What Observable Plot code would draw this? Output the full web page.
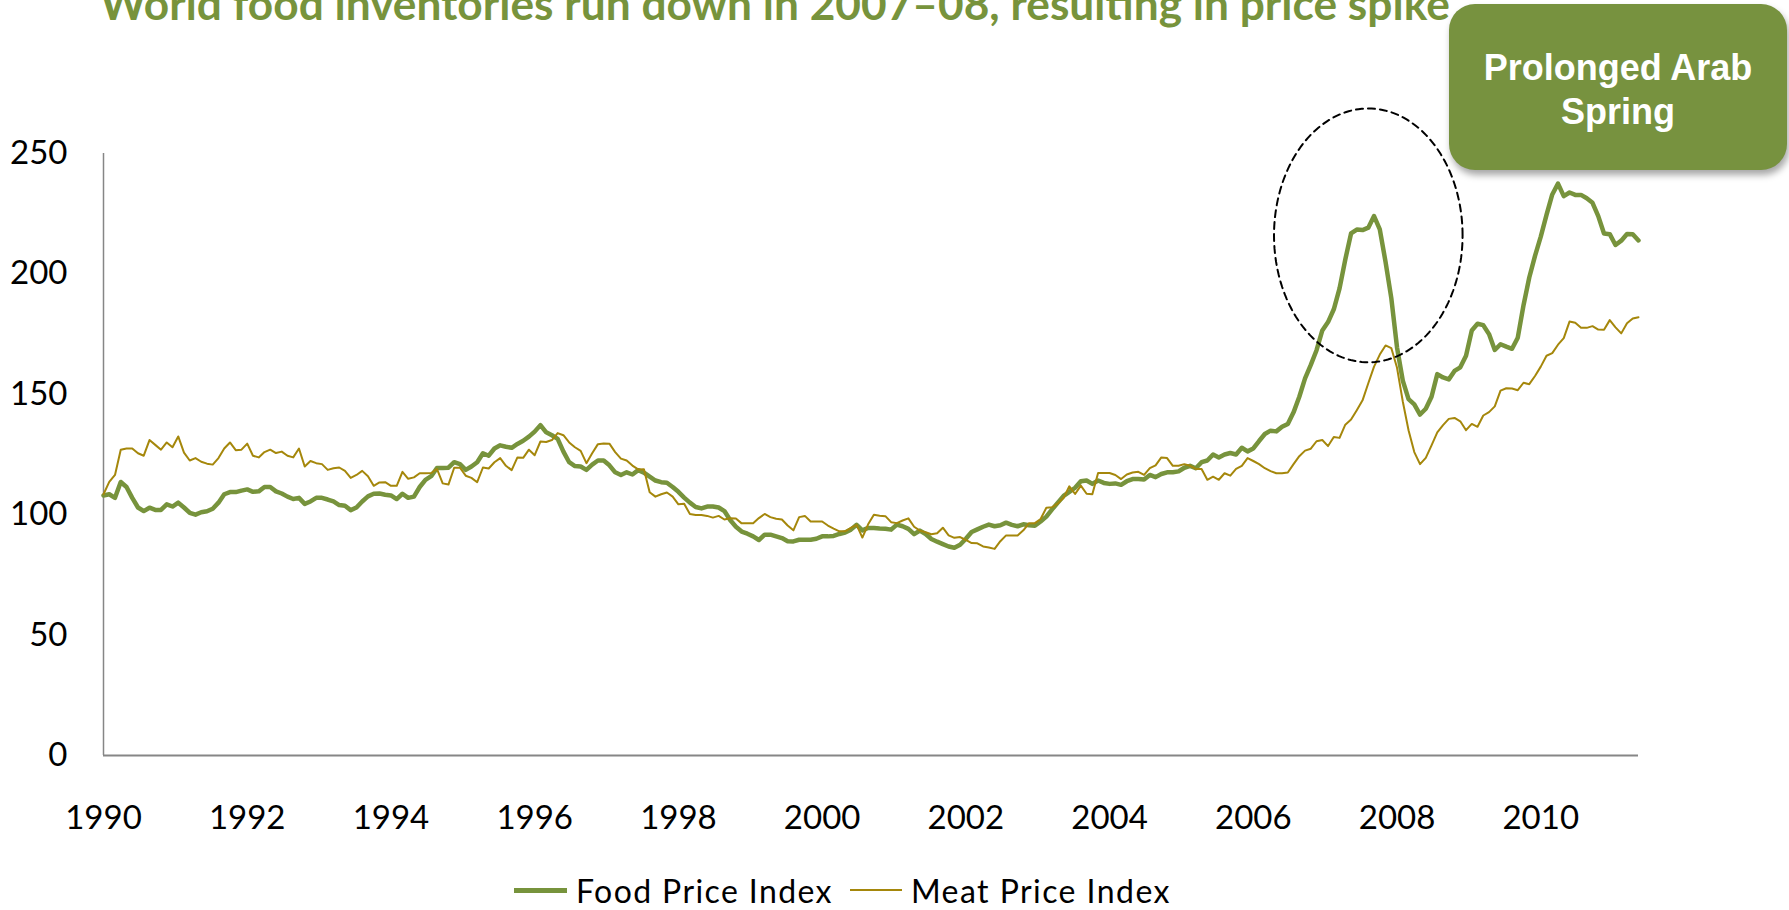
<!DOCTYPE html>
<html>
<head>
<meta charset="utf-8">
<script src="https://cdn.jsdelivr.net/npm/d3@7"></script>
<script src="https://cdn.jsdelivr.net/npm/@observablehq/plot@0.6"></script>
<style>
  html, body { margin: 0; padding: 0; background: #fff; }
  body { width: 1789px; height: 910px; overflow: hidden; position: relative; font-family: Lato, "Open Sans", sans-serif; }
  #chart { position: absolute; left: 0; top: 0; z-index: 1; }
  #titlesvg { position: absolute; left: 0; top: 0; z-index: 2; overflow: visible; }
  #box {
    position: absolute; left: 1449px; top: 4px; width: 338px; height: 166px; z-index: 3;
    background: #77923F; border-radius: 26px; box-shadow: 2px 5px 7px rgba(0,0,0,0.35);
    color: #fff; font-family: "Liberation Sans", Arial, sans-serif; font-weight: bold; font-size: 36px;
    line-height: 44px; text-align: center; box-sizing: border-box; padding-top: 42px;
  }
  #legend {
    position: absolute; left: 514px; top: 870px; height: 40px; z-index: 2;
    display: flex; align-items: center; font-family: Lato, sans-serif; font-size: 32px; color: #000; white-space: nowrap;
  }
  .sw { display: inline-block; }
</style>
</head>
<body>
<div id="chart"></div>
<svg id="titlesvg" width="1789" height="40">
  <text id="title" x="100" y="20" font-family="Lato, sans-serif" font-weight="bold" font-size="40" fill="#77933C"></text>
</svg>
<div id="box"></div>
<div id="legend"></div>
<script>
// ---------------- data (monthly, Jan 1990 onward) ----------------
const titleText = "World food inventories run down in 2007–08, resulting in price spike";
const boxText = ["Prolonged Arab", "Spring"];
const seriesNames = ["Food Price Index", "Meat Price Index"];

const foodIndex = [
108,108.5,107,113.6,111.5,107,103,101.5,102.9,102,102,104.3,103.4,105,103,100.8,100,101,101.4,102.5,
105,108.5,109.4,109.4,110,110.5,109.5,109.7,111.5,111.5,109.7,108.8,107.5,106.5,107,104.5,105.5,107,107,106.3,
105.5,104,103.7,101.9,103,105.5,107.6,108.7,108.8,108.3,108,106.5,108.7,107,107.5,111.5,114.5,116,119.4,119.4,
119.5,121.8,121,118.6,120,121.8,125.5,124.5,127.5,128.8,128.2,127.8,129.4,130.7,132.4,134.5,137.2,134.2,133,131.5,
126.2,121.8,120.2,120,118.6,120.8,122.5,122.5,120.5,117.6,116.5,117.6,116.7,118.5,117.5,115.8,114.2,113.5,113.3,111.5,
109.5,107.1,105,103.2,102.6,103.4,103.4,103,101.5,97.8,95,93,92.1,91,89.5,91.7,91.7,91,90.3,89,
88.9,89.6,89.6,89.6,90,91,91,91.2,92,92.6,93.8,95.8,93.5,94.5,94.5,94.3,94.2,93.8,95.9,95.2,
94.1,91.9,93.4,92,89.9,88.8,87.8,86.8,86.3,87.5,90,92.8,93.9,95,95.9,95.2,95.6,96.7,95.8,95.2,
96,95.6,95.4,97.2,99.2,102.2,105,107.8,109.5,111.2,113.9,114.2,112.8,114.2,113.2,112.8,113,112.4,113.9,114.8,
114.8,114.6,116.5,115.6,116.9,117.6,117.6,118,119.5,120.3,119.3,121.8,122.5,125,123.8,125,125.6,125,127.8,126.3,
127.5,130.6,133.5,134.9,134.6,136.5,137.7,142.5,149,156.6,162.2,168.3,176.5,180,185.3,194,206,216.8,218.4,218.2,
219.2,224,218.5,205,190,169.4,155.7,148,145.8,141.6,144,149,158.4,157,156.2,159.7,161.2,166,176.5,179.3,
178.7,175,168.4,170.8,169.8,168.9,173.5,187,198.5,207.5,215.5,224.5,233,237.5,232.3,233.8,232.8,232.8,231.4,229.5,
224,216.8,216.5,212,213.8,216.6,216.5,213.9
];

const meatIndex = [
108.5,113.6,116.5,127,127.5,127.5,125.5,124.5,131,129,127,130,128,132.5,125.8,122.5,123.5,122,121.2,120.8,
123.5,127.5,130,126.8,127,129.5,124.5,123.8,126,127,125.6,126.2,124.5,123.8,127.5,120,122.3,121.4,121,118.6,
119.3,119.6,118.2,115.3,116.5,118.2,116,112,113.4,113.5,112,112,117.8,114.9,115.5,117.2,117.2,117.3,119,113,
112.5,119.5,119.5,116.2,115.3,113.5,119.6,119.2,121.8,123.5,120.3,118.5,123.8,123.6,127,124.7,130.4,130.2,131,133.9,
133,130,128,126.5,121.4,125.5,129.3,129.6,129.5,126,123.3,122.5,120.4,118.8,118.9,109.3,107.5,108.5,109.2,107.5,
104.3,104.5,100.3,99.9,99.9,99.5,98.8,99.5,98,98.5,98.4,96.4,96.4,96.5,98.6,100.3,99,98.3,98,95.5,
93.5,99,99.5,97.2,97.2,97.2,95.5,94.2,93.1,93.1,94.5,95.8,90.5,96,100,99.6,99.4,96.9,96.5,97.6,
98.5,95,93.4,92.7,91.9,92.3,94.6,91.4,90.4,90.7,89.5,88.2,88.1,86.8,86.4,85.8,89,91.4,91.4,91.4,
93.5,96.5,96.5,98.2,102.9,103.1,104.7,107,111.8,108.6,112.1,108.7,108.5,117.3,117.3,117.3,116.5,114.8,116.7,117.5,
117.8,116.5,119.3,120.5,123.8,123.5,120.3,120.3,121,120.3,119,119,114.5,115.8,114.5,117.2,116.2,119,120.3,123.5,
122.3,121,119.3,118.1,117.2,117.2,117.5,121,124.3,126.6,127.4,130.5,131,128.5,132.3,131.9,137.4,139.5,143.4,147.5,
154.6,161.5,166.5,170.3,169.2,161,147,135.1,126,121,123.6,128.8,134.2,137.2,139.8,140.2,138.8,135.1,137.7,136.5,
141.2,142.6,145,151.5,152.5,152.4,151.7,154.8,154.2,157.6,161.5,166,167.1,170.6,173.3,180.2,179.7,177.6,177.6,178.3,
176.9,176.8,180.8,177.8,175.3,179.5,181.5,182
];

// category axis: a label every 25 months, as in the original
const tickMonths = [0, 25, 50, 75, 100, 125, 150, 175, 200, 225, 250];
const tickLabels = ["1990","1992","1994","1996","1998","2000","2002","2004","2006","2008","2010"];
const yTicks = [0, 50, 100, 150, 200, 250];

// dashed ellipse round the 2007–08 spike, in data units (month index, index value)
const spikeCenter = { month: 220, value: 216 };
const spikeRadius = { months: 16.4, value: 52.7 };

// ---------------- build ----------------
const rows = foodIndex.map((v, i) => ({ month: i, food: v, meat: meatIndex[i] }));
const ellipse = d3.range(0, 361, 2).map(a => ({
  month: spikeCenter.month + spikeRadius.months * Math.cos(a * Math.PI / 180),
  value: spikeCenter.value + spikeRadius.value * Math.sin(a * Math.PI / 180)
}));

const FOOD = "#77933C", MEAT = "#A5870B", AXIS = "#868686";

const chart = Plot.plot({
  width: 1789, height: 850,
  marginLeft: 103, marginRight: 151, marginTop: 153, marginBottom: 95,
  style: { background: "transparent", fontFamily: "Lato, sans-serif", fontSize: "33px", color: "#000", overflow: "visible" },
  x: { domain: [0, foodIndex.length - 1] },
  y: { domain: [0, 250] },
  marks: [
    Plot.axisX({ ticks: tickMonths, tickFormat: d => tickLabels[tickMonths.indexOf(d)], tickSize: 0, tickPadding: 50, fontSize: 33, fill: "#000", label: null }),
    Plot.axisY({ ticks: yTicks, tickSize: 0, tickPadding: 36, fontSize: 33, fill: "#000", label: null }),
    Plot.ruleX([0], { stroke: AXIS, strokeWidth: 1.5 }),
    Plot.ruleY([0], { stroke: AXIS, strokeWidth: 2 }),
    Plot.line(rows, { x: "month", y: "food", stroke: FOOD, strokeWidth: 4.5, strokeLinejoin: "round" }),
    Plot.line(rows, { x: "month", y: "meat", stroke: MEAT, strokeWidth: 2, strokeLinejoin: "round" }),
    Plot.line(ellipse, { x: "month", y: "value", stroke: "#000", strokeWidth: 2, strokeDasharray: "7,5" })
  ]
});
document.getElementById("chart").appendChild(chart);

// title (fitted to the original width)
const t = document.getElementById("title");
t.textContent = titleText;
const tw = t.getComputedTextLength();
t.setAttribute("font-size", (40 * 1350 / tw).toFixed(2));

// annotation box
document.getElementById("box").innerHTML = boxText.join("<br>");

// legend
const legend = document.getElementById("legend");
function item(name, color, w, h, gapBefore, textWidth) {
  const sw = document.createElement("span");
  sw.className = "sw";
  sw.style.cssText = `width:${w}px;height:${h}px;background:${color};margin-left:${gapBefore}px;margin-right:9px;`;
  const tx = document.createElement("span");
  tx.textContent = name;
  legend.appendChild(sw);
  legend.appendChild(tx);
  const nat = tx.getBoundingClientRect().width;
  tx.style.letterSpacing = ((textWidth - nat) / name.length).toFixed(2) + "px";
}
item(seriesNames[0], FOOD, 53, 5, 0, 257);
item(seriesNames[1], MEAT, 52, 2, 17, 260);
</script>
</body>
</html>
